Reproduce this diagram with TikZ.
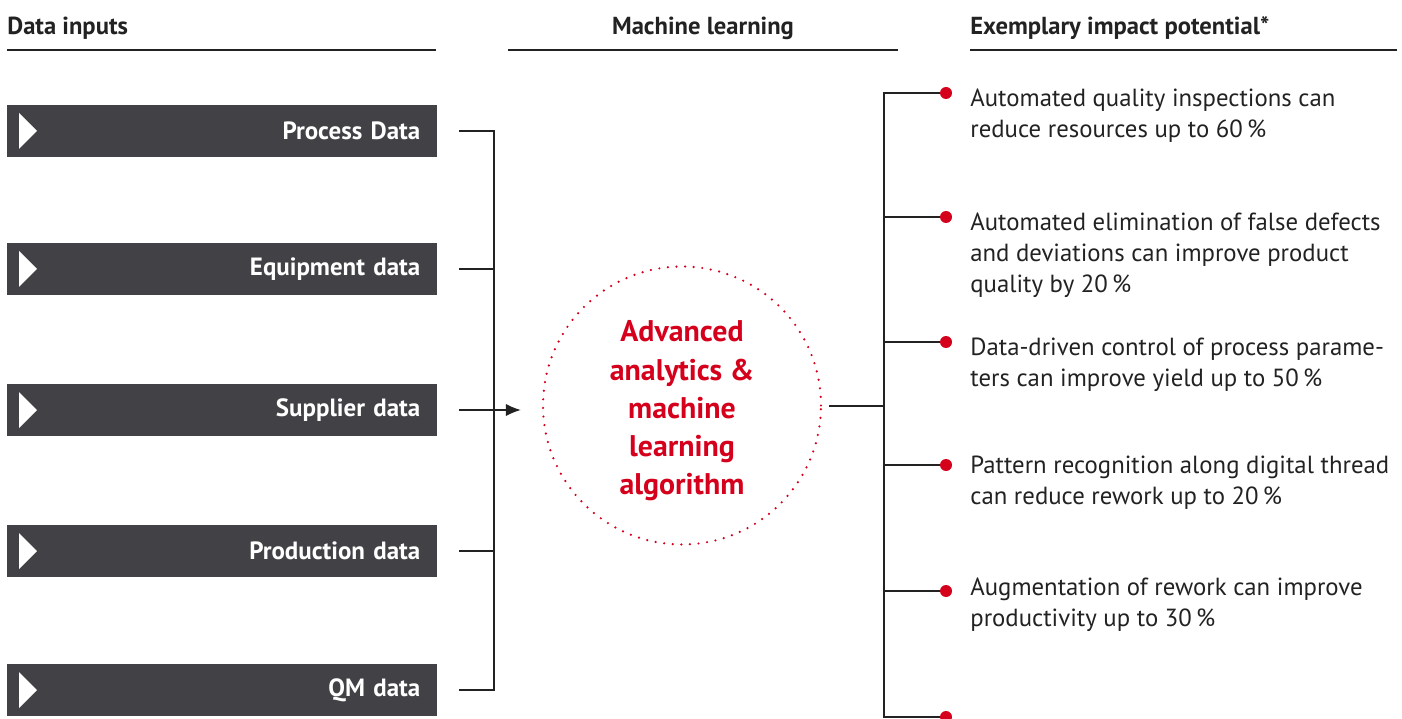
\documentclass[tikz,border=0pt]{standalone}
\usepackage{fontspec}
\setmainfont{PT Sans}
\usetikzlibrary{arrows.meta}
\definecolor{boxgray}{HTML}{424145}
\definecolor{mlred}{HTML}{D5001C}
\definecolor{inktext}{HTML}{222222}
\begin{document}
\begin{tikzpicture}[x=0.02cm,y=-0.02cm,
  head/.style={font=\fontsize{14}{16}\selectfont\bfseries,text=inktext,inner sep=0pt},
  rule/.style={line width=1.2pt,inktext},
  inbox/.style={fill=boxgray,text=white,minimum width=8.6cm,minimum height=1.04cm,
    text width=7.92cm,align=right,inner xsep=0.34cm,
    font=\fontsize{14.2}{16}\selectfont\bfseries},
  link/.style={line width=0.7pt,inktext},
  mlcircle/.style={circle,minimum size=5.56cm,draw=mlred,line width=1.4pt,
    dash pattern=on 0pt off 4.9pt,line cap=round,text=mlred,align=center,
    font=\fontsize{17}{21.8}\selectfont\bfseries},
  reddot/.style={circle,fill=mlred,minimum size=0.24cm,inner sep=0pt},
  impact/.style={anchor=north west,align=left,inner sep=0pt,text=inktext,
    font=\fontsize{14.1}{17.6}\selectfont}]
\useasboundingbox (0,0) rectangle (1402,719);
% headings
\node[head,anchor=base west] (h1) at (7,35) {Data inputs};
\node[head,anchor=base] (h2) at (703,35) {Machine learning};
\node[head,anchor=base west] (h3) at (970,35) {Exemplary impact potential*};
\draw[rule] (7,50) -- (436,50);
\draw[rule] (508,50) -- (898,50);
\draw[rule] (970,50) -- (1397,50);
%
% data input boxes
\coordinate (jl) at (494,410);
\foreach \i/\y/\name in {1/131/Process Data,2/269/Equipment data,3/410/Supplier data,
    4/551/Production data,5/690/QM data}{
  \node[inbox,anchor=west] (box\i) at (7,\y) {\name};
  \fill[white] (box\i.west) ++(12,-18) -- ++(18,18) -- ++(-18,18) -- cycle;
  \coordinate (in\i) at (459,\y);
  \draw[link] (in\i) -| (jl);
}
%
% machine learning
\node[mlcircle] (ml) at (682,405.5) {};
\node[text=mlred,align=center,font=\fontsize{17}{21.8}\selectfont\bfseries] (mltext) at (682,411) {Advanced\\analytics \&\\machine\\learning\\algorithm};
\draw[link,-{Latex[length=8.5pt,width=7pt]},shorten >=0.42cm] (jl) -- (ml.west |- jl);
\coordinate (jr) at (884,406);
\draw[link,shorten <=0.14cm] (ml.east |- jr) -- (jr);
%
% impact
\foreach \i/\y in {1/93,2/217,3/342,4/465,5/591,6/717}{
  \node[reddot] (dot\i) at (946,\y) {};
  \draw[link] (jr) |- (dot\i);
}
\node[impact] (t1) at (970,89) {Automated quality inspections can\\reduce resources up to 60\,\%};
\node[impact] (t2) at (970,213) {Automated elimination of false defects\\and deviations can improve product\\quality by 20\,\%};
\node[impact] (t3) at (970,338) {Data-driven control of process parame-\\ters can improve yield up to 50\,\%};
\node[impact] (t4) at (970,456) {Pattern recognition along digital thread\\can reduce rework up to 20\,\%};
\node[impact] (t5) at (970,578) {Augmentation of rework can improve\\productivity up to 30\,\%};
\end{tikzpicture}
\end{document}
